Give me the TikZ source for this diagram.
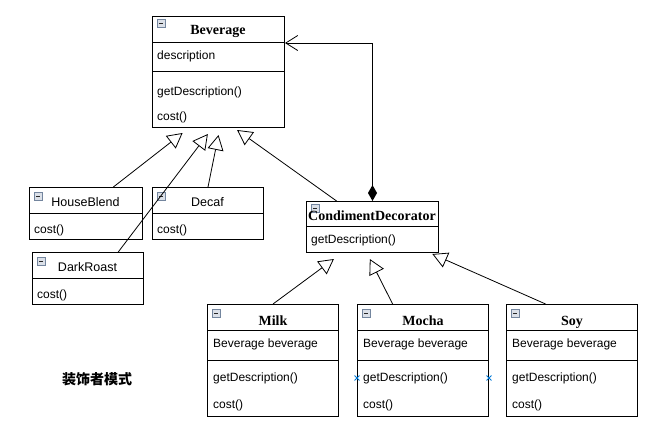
\documentclass[tikz,border=0pt]{standalone}
\usepackage{fontspec}
\setmainfont{Liberation Serif}
\setsansfont{Liberation Sans}
\newfontfamily\cjk{Noto Sans CJK SC}
\usetikzlibrary{arrows.meta}
\usetikzlibrary{calc}
\usetikzlibrary{shapes.misc}
\definecolor{iconedge}{rgb}{0.45, 0.52, 0.62}
\definecolor{iconfill}{rgb}{0.86, 0.88, 0.91}
\definecolor{selblue}{rgb}{0, 0.47, 0.84}
\tikzset{classbox/.style = {draw, line width = 1pt, inner sep = 0, anchor = north west}}
\tikzset{sepline/.style = {line width = 1pt}}
\tikzset{ctitle/.style = {font = \fontsize{14}{16}\selectfont\bfseries, inner sep = 0, text height = 10pt, text depth = 3pt}}
\tikzset{stitle/.style = {font = \sffamily\fontsize{12.5}{15}\selectfont, inner sep = 0, text height = 9pt, text depth = 3pt}}
\tikzset{member/.style = {font = \sffamily\fontsize{12}{14}\selectfont, inner sep = 0, anchor = west, text height = 9pt, text depth = 3pt}}
\tikzset{foldicon/.style = {draw = iconedge, fill = iconfill, line width = 0.6pt, inner sep = 0, minimum size = 7.5pt, anchor = north west,
    path picture = {\draw [line width = 0.9pt, black!85] ([xshift = 1.6pt]path picture bounding box.west) -- ([xshift = -1.6pt]path picture bounding box.east);}}}
\tikzset{inherit/.style = {line width = 0.8pt, -{Triangle[open, length = 15pt, width = 16pt, line width = 0.8pt]}}}
\tikzset{compose/.style = {line width = 1pt, {Diamond[length = 16pt, width = 9pt]}-{Straight Barb[length = 12pt, width = 15pt, line width = 0.8pt]}}}
\tikzset{selmark/.style = {cross out, draw = selblue, line width = 0.9pt, minimum size = 4pt, inner sep = 0}}

\begin{document}
\begin{tikzpicture}[x = 1pt, y = -1pt]
  \useasboundingbox (0, 0) rectangle (661, 432);

  % Beverage
  \node [classbox, minimum width = 132pt, minimum height = 111pt] (bev) at (152, 16) {};
  \node [foldicon] (bev-icon) at (157, 19) {};
  \node [ctitle] (bev-title) at (218, 31) {Beverage};
  \node [member] (bev-desc) at (157, 56) {description};
  \node [member] (bev-get) at (157, 92) {getDescription()};
  \node [member] (bev-cost) at (157, 117) {cost()};
  \draw [sepline] (152, 42) -- (284, 42);
  \draw [sepline] (152, 71) -- (284, 71);

  % concrete beverages
  \foreach \name/\x/\y/\w/\cname in {hb/29/187/113/HouseBlend, decaf/152/187/111/Decaf, dr/32/252/111/DarkRoast} {
    \node [classbox, minimum width = \w pt, minimum height = 52pt] (\name) at (\x, \y) {};
    \node [foldicon] (\name-icon) at (\x + 5, \y + 5) {};
    \node [stitle] (\name-title) at (\x + \w / 2, \y + 16) {\cname};
    \node [member] (\name-cost) at (\x + 5, \y + 43) {cost()};
    \draw [sepline] (\x, \y + 26) -- (\x + \w, \y + 26);
  }

  % CondimentDecorator
  \node [classbox, minimum width = 132pt, minimum height = 51pt] (cd) at (306, 201) {};
  \node [foldicon] (cd-icon) at (311, 204) {};
  \node [ctitle] (cd-title) at (372, 217) {CondimentDecorator};
  \node [member] (cd-get) at (311, 240) {getDescription()};
  \draw [sepline] (306, 226) -- (438, 226);

  % condiments
  \foreach \name/\x/\cname in {milk/207/Milk, mocha/357/Mocha, soy/506/Soy} {
    \node [classbox, minimum width = 131pt, minimum height = 112pt] (\name) at (\x, 304) {};
    \node [foldicon] (\name-icon) at (\x + 5, 309) {};
    \node [ctitle] (\name-title) at (\x + 66, 322) {\cname};
    \node [member] (\name-field) at (\x + 6, 344) {Beverage beverage};
    \node [member] (\name-get) at (\x + 6, 378) {getDescription()};
    \node [member] (\name-cost) at (\x + 6, 405) {cost()};
    \draw [sepline] (\x, 330) -- (\x + 131, 330);
    \draw [sepline] (\x, 360) -- (\x + 131, 360);
  }

  \node [selmark] (sel-left) at (mocha.west |- mocha-get) {};
  \node [selmark] (sel-right) at (mocha.east |- mocha-get) {};

  % generalisation
  \draw [inherit] ($(hb.north west)!0.74!(hb.north east)$) -- ($(bev.south west)!0.23!(bev.south east) + (0, 5)$);
  \draw [inherit] ($(dr.north west)!0.77!(dr.north east)$) -- ($(bev.south west)!0.42!(bev.south east) + (0, 6)$);
  \draw [inherit] ($(decaf.north west)!0.5!(decaf.north east)$) -- ($(bev.south west)!0.5!(bev.south east) + (0, 7)$);
  \draw [inherit] ($(cd.north west)!0.23!(cd.north east)$) -- ($(bev.south west)!0.64!(bev.south east) + (0, 2)$);

  \draw [inherit] ($(milk.north west)!0.5!(milk.north east)$) -- ($(cd.south west)!0.21!(cd.south east) + (0, 6)$);
  \draw [inherit] ($(mocha.north west)!0.27!(mocha.north east)$) -- ($(cd.south west)!0.48!(cd.south east) + (0, 6)$);
  \draw [inherit] ($(soy.north west)!0.3!(soy.north east)$) -- ($(cd.south west)!0.95!(cd.south east) + (0, 1)$);

  % composition
  \draw [compose] (cd.north) |- ($(bev.north east) + (0, 27)$);

  \node [font = {\cjk\fontsize{14}{16}\selectfont\bfseries}, inner sep = 0] (pattern) at (97, 379) {装饰者模式};
\end{tikzpicture}
\end{document}
